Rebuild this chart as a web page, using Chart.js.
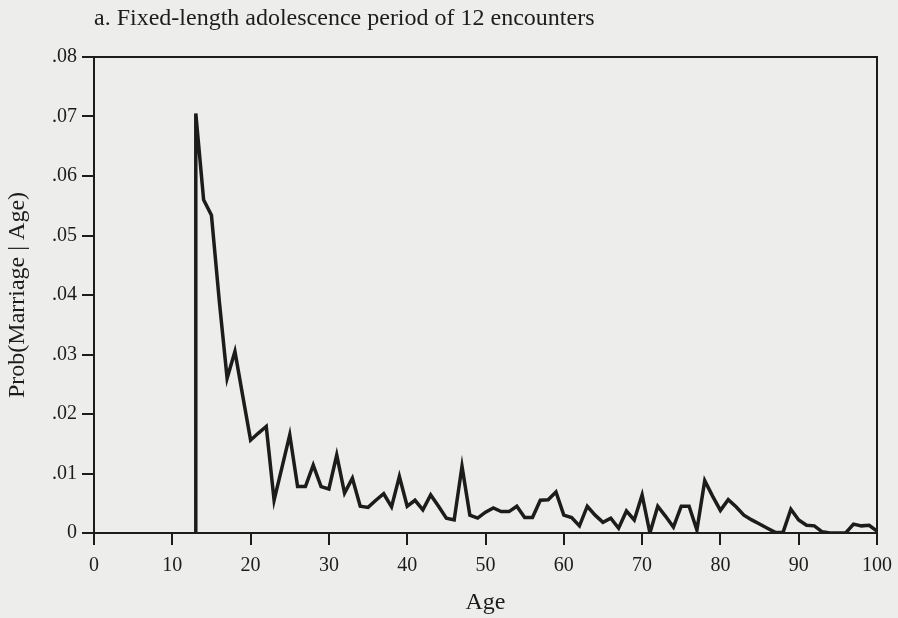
<!DOCTYPE html>
<html>
<head>
<meta charset="utf-8">
<script src="https://cdn.jsdelivr.net/npm/chart.js@4.4.1/dist/chart.umd.min.js"></script>
<style>
  html, body { margin: 0; padding: 0; background: #ededeb; }
  #wrap { width: 898px; height: 618px; }
</style>
</head>
<body>
<div id="wrap"><canvas id="chart" width="898" height="618"></canvas></div>
<script>
// age in years (13 appears twice: the curve rises straight up from 0)
const ages = [13, 13, 14, 15, 16, 17, 18, 19, 20, 21, 22, 23, 24, 25, 26, 27, 28, 29, 30,
  31, 32, 33, 34, 35, 36, 37, 38, 39, 40, 41, 42, 43, 44, 45, 46, 47, 48, 49, 50,
  51, 52, 53, 54, 55, 56, 57, 58, 59, 60, 61, 62, 63, 64, 65, 66, 67, 68, 69, 70,
  71, 72, 73, 74, 75, 76, 77, 78, 79, 80, 81, 82, 83, 84, 85, 86, 87, 88, 89, 90,
  91, 92, 93, 94, 95, 96, 97, 98, 99, 100];

// Prob(Marriage | Age)
const probs = [0, .0705, .056, .0534, .039, .026, .0305, .023, .0156, .0168, .0179, .0055, .011, .0165, .0078, .0078, .0114, .0078, .0074,
  .0131, .0067, .0092, .0045, .0043, .0055, .0066, .0044, .0095, .0045, .0055, .0039, .0064, .0045, .0025, .0022, .0112, .003, .0025, .0035,
  .0042, .0036, .0036, .0045, .0026, .0026, .0055, .0056, .0069, .003, .0026, .0012, .0045, .003, .0018, .0025, .0008, .0037, .0022, .0064,
  0, .0045, .0028, .001, .0045, .0045, .0005, .0088, .0062, .0038, .0056, .0044, .003, .0022, .0015, .0008, .0001, .0001, .004, .0022,
  .0013, .0012, .0002, 0, 0, 0, .0015, .0012, .0013, .0003];

const xTickValues = [0, 10, 20, 30, 40, 50, 60, 70, 80, 90, 100];
const xTickLabels = ['0', '10', '20', '30', '40', '50', '60', '70', '80', '90', '100'];
const yTickValues = [0, .01, .02, .03, .04, .05, .06, .07, .08];
const yTickLabels = ['0', '.01', '.02', '.03', '.04', '.05', '.06', '.07', '.08'];

const ink = '#1c1c1c';
const serif = "'Liberation Serif', 'DejaVu Serif', serif";

// top and right sides of the box around the plot
const framePlugin = {
  id: 'frame',
  afterDraw(chart) {
    const { ctx, chartArea: a } = chart;
    ctx.save();
    ctx.strokeStyle = ink;
    ctx.lineWidth = 2;
    ctx.beginPath();
    ctx.moveTo(a.left, a.top);
    ctx.lineTo(a.right, a.top);
    ctx.lineTo(a.right, a.bottom);
    ctx.stroke();
    ctx.restore();
  }
};

new Chart(document.getElementById('chart'), {
  type: 'line',
  data: {
    datasets: [{
      data: ages.map((a, i) => ({ x: a, y: probs[i] })),
      borderColor: ink,
      borderWidth: 3.5,
      borderJoinStyle: 'miter',
      pointRadius: 0,
      tension: 0,
      fill: false
    }]
  },
  options: {
    responsive: false,
    animation: false,
    layout: { padding: { left: 0, right: 21, top: 0, bottom: 0 } },
    plugins: {
      legend: { display: false },
      tooltip: { enabled: false },
      title: {
        display: true,
        text: 'a. Fixed-length adolescence period of 12 encounters',
        align: 'start',
        fullSize: false,
        color: ink,
        font: { family: serif, size: 24, weight: 'normal' },
        padding: { top: 4.2, bottom: 24 }
      }
    },
    scales: {
      x: {
        type: 'linear',
        min: 0,
        max: 100,
        afterFit(scale) {
          scale.height = 85;
          scale.paddingRight = 0; // let "100" hang into the right margin
        },
        afterBuildTicks(scale) { scale.ticks = xTickValues.map(v => ({ value: v })); },
        ticks: {
          color: ink,
          padding: 9,
          maxRotation: 0,
          font: { family: serif, size: 20 },
          callback: (v, i) => xTickLabels[i]
        },
        grid: { drawOnChartArea: false, drawTicks: true, tickLength: 12, color: ink, lineWidth: 2 },
        border: { display: true, color: ink, width: 2 },
        title: {
          display: true,
          text: 'Age',
          color: ink,
          font: { family: serif, size: 24 },
          padding: { top: 0, bottom: 1 }
        }
      },
      y: {
        min: 0,
        max: 0.08,
        afterFit(scale) { scale.width = 94; },
        afterBuildTicks(scale) { scale.ticks = yTickValues.map(v => ({ value: v })); },
        ticks: {
          color: ink,
          padding: 5,
          font: { family: serif, size: 20 },
          callback: (v, i) => yTickLabels[i]
        },
        grid: { drawOnChartArea: false, drawTicks: true, tickLength: 12, color: ink, lineWidth: 2 },
        border: { display: true, color: ink, width: 2 },
        title: {
          display: true,
          text: 'Prob(Marriage | Age)',
          color: ink,
          font: { family: serif, size: 24 },
          padding: { top: 3.6, bottom: 0 }
        }
      }
    }
  },
  plugins: [framePlugin]
});
</script>
</body>
</html>
